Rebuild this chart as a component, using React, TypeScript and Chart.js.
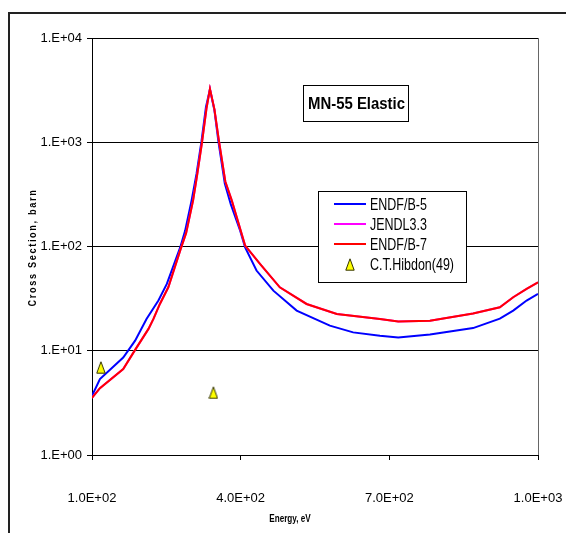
import React, { useEffect, useRef } from "react";
import { Chart, registerables } from "chart.js";

Chart.register(...registerables);

// ---- data ----
const chartTitle = "MN-55 Elastic";
const xAxisTitle = "Energy, eV";
const yAxisTitle = "Cross Section, barn";

const xTickValues = [100, 400, 700, 1000];
const xTickLabels = ["1.0E+02", "4.0E+02", "7.0E+02", "1.0E+03"];
const yTickValues = [1, 10, 100, 1000, 10000];
const yTickLabels = ["1.E+00", "1.E+01", "1.E+02", "1.E+03", "1.E+04"];

const endfb5Energy = [100, 116, 163, 187, 210, 234, 251, 278, 288, 301, 311, 321, 330, 338, 347, 355, 368, 380, 399, 409, 432, 466, 513, 580, 627, 681, 718, 782, 869, 923, 950, 977, 1000];
const endfb5Sigma = [3.69, 5.35, 8.62, 12.5, 20.2, 30.3, 43.8, 98, 142, 277, 500, 1023, 2185, 3213, 2031, 1023, 401, 255, 142, 98, 58.8, 37.7, 24.3, 17.4, 15.0, 13.9, 13.4, 14.3, 16.5, 20.3, 24.3, 30.3, 35.1];

const endfb7Energy = [100, 116, 163, 187, 214, 224, 237, 254, 279, 290, 304, 312, 322, 331, 338, 347, 356, 369, 382, 409, 439, 479, 533, 594, 642, 681, 718, 782, 869, 923, 950, 977, 1000];
const endfb7Sigma = [3.53, 4.38, 6.67, 10.2, 16.2, 20.2, 28.1, 40.6, 95, 135, 277, 480, 1000, 2100, 3250, 2080, 1040, 420, 277, 102, 68.2, 40.6, 28.1, 22.5, 21.2, 20.2, 19.1, 19.4, 22.8, 26.1, 32.6, 39.2, 45.4];

// JENDL-3.3 lies on ENDF/B-7 in the picture (hidden beneath the red curve)
const jendlEnergy = [100, 116, 163, 187, 214, 224, 237, 254, 279, 290, 304, 312, 322, 331, 338, 347, 356, 369, 382, 409, 439, 479, 533, 594, 642, 681, 718, 782, 869, 923, 950, 977, 1000];
const jendlSigma = [3.53, 4.38, 6.67, 10.2, 16.2, 20.2, 28.1, 40.6, 95, 135, 277, 480, 1000, 2100, 3250, 2080, 1040, 420, 277, 102, 68.2, 40.6, 28.1, 22.5, 21.2, 20.2, 19.1, 19.4, 22.8, 26.1, 32.6, 39.2, 45.4];

const hibdonEnergy = [118, 345];
const hibdonSigma = [6.92, 3.97];

const FONT = '"Liberation Sans", Arial, sans-serif';

const zip = (xs: number[], ys: number[]) => xs.map((x, i) => ({ x, y: ys[i] }));

function makeTriangle(): HTMLCanvasElement {
  const c = document.createElement("canvas");
  c.width = 10;
  c.height = 13;
  const g = c.getContext("2d")!;
  g.fillStyle = "#FFFF00";
  g.strokeStyle = "#333300";
  g.lineWidth = 1;
  g.beginPath();
  g.moveTo(5, 0.8);
  g.lineTo(9.2, 12.2);
  g.lineTo(0.8, 12.2);
  g.closePath();
  g.fill();
  g.stroke();
  return c;
}

function fittedText(
  ctx: CanvasRenderingContext2D,
  text: string,
  x: number,
  y: number,
  scaleX: number,
  align: CanvasTextAlign
) {
  ctx.save();
  ctx.translate(x, y);
  ctx.scale(scaleX, 1);
  ctx.textAlign = align;
  ctx.fillText(text, 0, 0);
  ctx.restore();
}

const decorPlugin = {
  id: "decor",
  afterDraw(chart: any) {
    const ctx = chart.ctx as CanvasRenderingContext2D;
    const area = chart.chartArea;
    const ys = chart.scales.y;
    ctx.save();

    // right border of plot area
    ctx.strokeStyle = "#666";
    ctx.lineWidth = 1;
    ctx.beginPath();
    ctx.moveTo(Math.round(area.right) + 0.5, area.top);
    ctx.lineTo(Math.round(area.right) + 0.5, area.bottom);
    ctx.stroke();

    // outer frame of the chart
    ctx.strokeStyle = "#222";
    ctx.lineWidth = 2;
    ctx.beginPath();
    ctx.moveTo(9, 700);
    ctx.lineTo(9, 13);
    ctx.lineTo(700, 13);
    ctx.stroke();

    // title box
    const tbX = 303, tbY = 85, tbW = 105, tbH = 36;
    ctx.fillStyle = "#fff";
    ctx.fillRect(tbX, tbY, tbW, tbH);
    ctx.strokeStyle = "#000";
    ctx.lineWidth = 1;
    ctx.strokeRect(tbX + 0.5, tbY + 0.5, tbW, tbH);
    ctx.fillStyle = "#000";
    ctx.font = `bold 17px ${FONT}`;
    ctx.textBaseline = "middle";
    const tw = ctx.measureText(chartTitle).width;
    fittedText(ctx, chartTitle, tbX + tbW / 2 + 1, tbY + tbH / 2 + 1, 97 / tw, "center");

    // legend box
    const lbX = 318, lbY = 191, lbW = 148, lbH = 91;
    ctx.fillStyle = "#fff";
    ctx.fillRect(lbX, lbY, lbW, lbH);
    ctx.strokeStyle = "#000";
    ctx.strokeRect(lbX + 0.5, lbY + 0.5, lbW, lbH);
    const rowY = [204, 224, 244, 264];
    ctx.font = `17px ${FONT}`;
    ctx.textBaseline = "middle";
    const longest = chart.data.datasets.reduce(
      (m: number, d: any) => Math.max(m, ctx.measureText(d.label).width),
      0
    );
    const ls = 84 / longest;
    chart.data.datasets.forEach((ds: any, i: number) => {
      const y = rowY[i];
      if (ds.showLine) {
        ctx.strokeStyle = ds.borderColor;
        ctx.lineWidth = 2;
        ctx.beginPath();
        ctx.moveTo(334, y);
        ctx.lineTo(366, y);
        ctx.stroke();
      } else {
        ctx.drawImage(ds.pointStyle, 345, y - 6);
      }
      ctx.fillStyle = "#000";
      fittedText(ctx, ds.label, 370, y + 1, ls, "left");
    });

    // axis titles
    ctx.fillStyle = "#000";
    ctx.font = `bold 11px ${FONT}`;
    ctx.textBaseline = "middle";
    const xw = ctx.measureText(xAxisTitle).width;
    fittedText(ctx, xAxisTitle, 290, 519, 41.5 / xw, "center");

    ctx.save();
    ctx.translate(33, (ys.top + ys.bottom) / 2 + 1);
    ctx.rotate(-Math.PI / 2);
    (ctx as any).letterSpacing = "2px";
    ctx.font = `bold 11px ${FONT}`;
    const yw = ctx.measureText(yAxisTitle).width;
    fittedText(ctx, yAxisTitle, 0, 0, 118 / yw, "center");
    ctx.restore();

    ctx.restore();
  },
};

export default function App() {
  const canvasRef = useRef<HTMLCanvasElement | null>(null);

  useEffect(() => {
    if (!canvasRef.current) return;
    const tri = makeTriangle();
    const chart = new Chart(canvasRef.current, {
      type: "scatter",
      data: {
        datasets: [
          {
            label: "ENDF/B-5",
            data: zip(endfb5Energy, endfb5Sigma),
            showLine: true,
            borderColor: "#0000FF",
            backgroundColor: "#0000FF",
            borderWidth: 2,
            pointRadius: 0,
            tension: 0,
            order: 3,
          },
          {
            label: "JENDL3.3",
            data: zip(jendlEnergy, jendlSigma),
            showLine: true,
            borderColor: "#FF00FF",
            backgroundColor: "#FF00FF",
            borderWidth: 2,
            pointRadius: 0,
            tension: 0,
            order: 2,
          },
          {
            label: "ENDF/B-7",
            data: zip(endfb7Energy, endfb7Sigma),
            showLine: true,
            borderColor: "#FF0000",
            backgroundColor: "#FF0000",
            borderWidth: 2,
            pointRadius: 0,
            tension: 0,
            order: 1,
          },
          {
            label: "C.T.Hibdon(49)",
            data: zip(hibdonEnergy, hibdonSigma),
            showLine: false,
            pointStyle: tri,
            pointRadius: 6,
            backgroundColor: "#FFFF00",
            borderColor: "#333300",
            order: 0,
          },
        ] as any,
      },
      options: {
        responsive: false,
        animation: false,
        layout: { padding: { top: 38, right: 28, left: 0, bottom: 0 } },
        plugins: {
          legend: { display: false },
          tooltip: { enabled: false },
          title: { display: false },
        },
        scales: {
          x: {
            type: "linear",
            min: 100,
            max: 1000,
            afterBuildTicks: (s: any) => {
              s.ticks = xTickValues.map((v) => ({ value: v }));
            },
            afterFit: (s: any) => {
              s.height = 78;
              s.paddingLeft = 0;
              s.paddingRight = 0;
            },
            grid: { drawOnChartArea: false, drawTicks: true, tickLength: 5, color: "#000" },
            border: { color: "#000", width: 1 },
            ticks: {
              callback: (_v: any, i: number) => xTickLabels[i],
              font: { family: FONT, size: 13 },
              color: "#000",
              padding: 31,
              maxRotation: 0,
              autoSkip: false,
            },
          },
          y: {
            type: "logarithmic",
            min: 1,
            max: 10000,
            afterBuildTicks: (s: any) => {
              s.ticks = yTickValues.map((v) => ({ value: v }));
            },
            afterFit: (s: any) => {
              s.width = 92;
              s.paddingTop = 0;
              s.paddingBottom = 0;
            },
            grid: { color: "#000", lineWidth: 1, drawTicks: true, tickLength: 5 },
            border: { color: "#000", width: 1 },
            ticks: {
              callback: (_v: any, i: number) => yTickLabels[i],
              font: { family: FONT, size: 13 },
              color: "#000",
              padding: 5,
              autoSkip: false,
            },
          },
        },
      } as any,
      plugins: [decorPlugin],
    });
    return () => chart.destroy();
  }, []);

  return (
    <div style={{ position: "fixed", left: 0, top: 0, width: 566, height: 533, overflow: "hidden", background: "#fff" }}>
      <canvas ref={canvasRef} width={566} height={533} style={{ display: "block" }} />
    </div>
  );
}
